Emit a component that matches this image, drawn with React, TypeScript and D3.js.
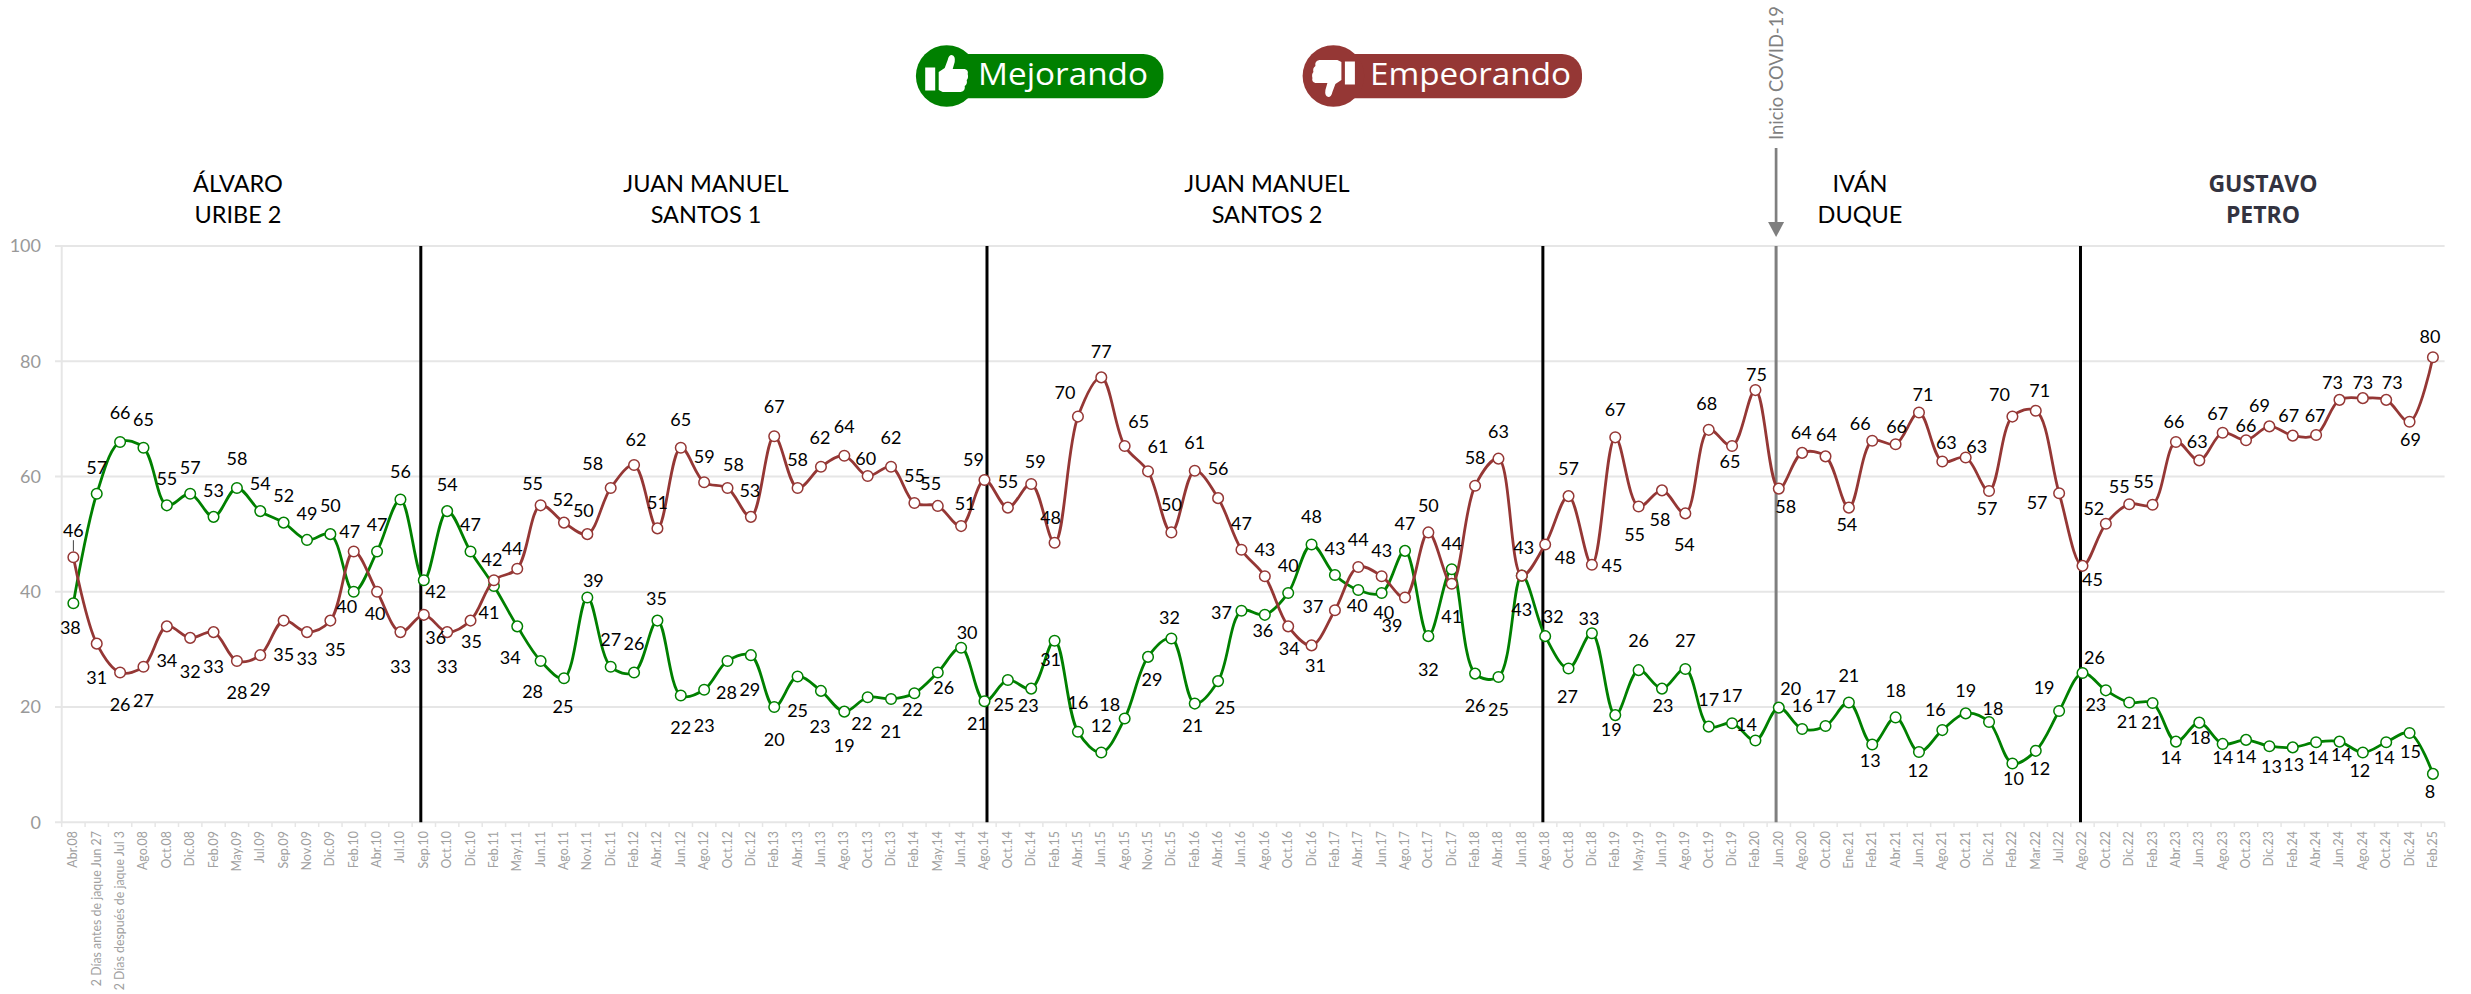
import React from 'react';
import * as d3 from 'd3';

const WIDTH = 2471;
const HEIGHT = 994;
const FONT = 'Lato, "Open Sans", sans-serif';
const GREEN = '#008000';
const RED = '#953735';

const months = [
  'Abr.08', '2 Días antes de jaque Jun 27', '2 Días después de jaque Jul 3', 'Ago.08', 'Oct.08', 'Dic.08',
  'Feb.09', 'May.09', 'Jul.09', 'Sep.09', 'Nov.09', 'Dic.09', 'Feb.10', 'Abr.10', 'Jul.10', 'Sep.10',
  'Oct.10', 'Dic.10', 'Feb.11', 'May.11', 'Jun.11', 'Ago.11', 'Nov.11', 'Dic.11', 'Feb.12', 'Abr.12',
  'Jun.12', 'Ago.12', 'Oct.12', 'Dic.12', 'Feb.13', 'Abr.13', 'Jun.13', 'Ago.13', 'Oct.13', 'Dic.13',
  'Feb.14', 'May.14', 'Jun.14', 'Ago.14', 'Oct.14', 'Dic.14', 'Feb.15', 'Abr.15', 'Jun.15', 'Ago.15',
  'Nov.15', 'Dic.15', 'Feb.16', 'Abr.16', 'Jun.16', 'Ago.16', 'Oct.16', 'Dic.16', 'Feb.17', 'Abr.17',
  'Jun.17', 'Ago.17', 'Oct.17', 'Dic.17', 'Feb.18', 'Abr.18', 'Jun.18', 'Ago.18', 'Oct.18', 'Dic.18',
  'Feb.19', 'May.19', 'Jun.19', 'Ago.19', 'Oct.19', 'Dic.19', 'Feb.20', 'Jun.20', 'Ago.20', 'Oct.20',
  'Ene.21', 'Feb.21', 'Abr.21', 'Jun.21', 'Ago.21', 'Oct.21', 'Dic.21', 'Feb.22', 'Mar.22', 'Jul.22',
  'Ago.22', 'Oct.22', 'Dic.22', 'Feb.23', 'Abr.23', 'Jun.23', 'Ago.23', 'Oct.23', 'Dic.23', 'Feb.24',
  'Abr.24', 'Jun.24', 'Ago.24', 'Oct.24', 'Dic.24', 'Feb.25',
];

const mejorando = [
  38, 57, 66, 65, 55, 57, 53, 58, 54, 52, 49, 50, 40, 47, 56, 42,
  54, 47, 41, 34, 28, 25, 39, 27, 26, 35, 22, 23, 28, 29, 20, 25.3, 22.8, 19.2, 21.7, 21.4,
  22.4, 26, 30.3, 21, 24.7, 23.2, 31.5, 15.7, 12.1, 18, 28.7, 31.9, 20.6, 24.5, 36.7, 36,
  39.8, 48.2, 42.9, 40.3, 39.8, 47.1, 32.3, 43.9, 25.8, 25.2, 42.8, 32.3, 26.7, 32.8,
  18.6, 26.4, 23.2, 26.6, 16.6, 17.2, 14.2, 19.9, 16.2, 16.7, 20.8, 13.5, 18.2, 12.2, 16, 18.9,
  17.4, 10.2, 12.4, 19.3, 25.9, 22.9, 20.8, 20.7, 14, 17.3, 13.6, 14.3, 13.2, 13, 13.9, 14, 12.1,
  13.9, 15.5, 8.4,
];

const empeorando = [
  46, 31, 26, 27, 34, 32, 33, 28, 29, 35, 33, 35, 47, 40, 33, 36,
  33, 35, 42, 44, 55, 52, 50, 58, 62, 51, 65, 59, 58, 53, 67, 58, 61.7, 63.6, 60.1, 61.7,
  55.4, 54.9, 51.4, 59.4, 54.6, 58.7, 48.5, 70.4, 77.2, 65.3, 60.9, 50.3, 61, 56.25, 47.3, 42.7,
  34, 30.7, 36.8, 44.3, 42.7, 39, 50.3, 41.4, 58.4, 63.1, 42.8, 48.2, 56.6, 44.7,
  66.8, 54.8, 57.6, 53.6, 68.1, 65.3, 75, 57.9, 64.1, 63.5, 54.6, 66.2, 65.6, 71.1, 62.6, 63.3,
  57.5, 70.4, 71.4, 57.1, 44.5, 51.8, 55.2, 55.1, 66, 62.8, 67.6, 66.3, 68.7, 67.1, 67.2, 73.3, 73.6,
  73.3, 69.5, 80.7,
];

// printed labels, they do not always round the same way as the plotted point
const mejorandoLabels = [
  38, 57, 66, 65, 55, 57, 53, 58, 54, 52, 49, 50, 40, 47, 56, 42,
  54, 47, 41, 34, 28, 25, 39, 27, 26, 35, 22, 23, 28, 29, 20, 25, 23, 19, 22, 21,
  22, 26, 30, 21, 25, 23, 31, 16, 12, 18, 29, 32, 21, 25, 37, 36,
  40, 48, 43, 40, 40, 47, 32, 44, 26, 25, 43, 32, 27, 33,
  19, 26, 23, 27, 17, 17, 14, 20, 16, 17, 21, 13, 18, 12, 16, 19,
  18, 10, 12, 19, 26, 23, 21, 21, 14, 18, 14, 14, 13, 13, 14, 14, 12,
  14, 15, 8,
];

const empeorandoLabels = [
  46, 31, 26, 27, 34, 32, 33, 28, 29, 35, 33, 35, 47, 40, 33, 36,
  33, 35, 42, 44, 55, 52, 50, 58, 62, 51, 65, 59, 58, 53, 67, 58, 62, 64, 60, 62,
  55, 55, 51, 59, 55, 59, 48, 70, 77, 65, 61, 50, 61, 56, 47, 43,
  34, 31, 37, 44, 43, 39, 50, 41, 58, 63, 43, 48, 57, 45,
  67, 55, 58, 54, 68, 65, 75, 58, 64, 64, 54, 66, 66, 71, 63, 63,
  57, 70, 71, 57, 45, 52, 55, 55, 66, 63, 67, 66, 69, 67, 67, 73, 73,
  73, 69, 80,
];

// hand placed label nudges from the point, [dx, dy] in px
const mejorandoNudge = [
  [-3, 24], [0, -26], [0, -29], [0, -28], [0, -27], [0, -26], [0, -26], [0, -29], [0, -27], [0, -27], [0, -26], [0, -28], [-7, 15], [0, -27], [0, -28], [12, 11],
  [0, -26], [0, -27], [-5, 27], [-7, 31], [-8, 31], [-1, 28], [6, -17], [0, -27], [0, -29], [-1, -22], [0, 32], [0, 36], [-1, 32], [-1, 35], [0, 33], [0, 34], [-1, 36], [0, 34], [-6, 26], [0, 33],
  [-2, 16], [6, 15], [6, -15], [-7, 22], [-4, 25], [-3, 17], [-4, 19], [0, -29], [0, -27], [-15, -14], [4, 23], [-2, -21], [-2, 22], [7, 27], [-20, 2], [-2, 16],
  [0, -27], [0, -28], [0, -26], [-1, 16], [2, 20], [0, -27], [0, 34], [0, -26], [0, 32], [0, 33], [0, 34], [8, -19], [-1, 28], [-3, -15],
  [-4, 15], [0, -29], [1, 17], [0, -28], [0, -27], [0, -27], [-9, -16], [12, -19], [0, -23], [0, -29], [0, -27], [-2, 16], [0, -27], [-1, 19], [-7, -20], [0, -23],
  [4, -13], [1, 15], [4, 18], [-15, -23], [12, -15], [-10, 14], [-2, 19], [-1, 20], [-5, 16], [1, 15], [0, 14], [0, 17], [2, 20], [1, 17], [2, 16], [2, 13], [-3, 18],
  [-2, 16], [1, 19], [-3, 18],
];

const empeorandoNudge = [
  [0, -27], [0, 34], [0, 32], [0, 34], [0, 34], [0, 34], [0, 35], [0, 32], [0, 35], [0, 34], [0, 27], [5, 29], [-4, -20], [-2, 22], [0, 35], [12, 23],
  [0, 35], [1, 21], [-2, -21], [-5, -20], [-8, -22], [-1, -23], [-4, -23], [-18, -24], [2, -25], [0, -26], [0, -28], [0, -26], [6, -23], [-1, -26], [0, -29], [0, -28], [-1, -29], [0, -29], [-2, -17], [0, -29],
  [0, -27], [-7, -22], [4, -22], [-11, -20], [0, -26], [4, -22], [-4, -25], [-13, -24], [0, -26], [14, -24], [10, -25], [0, -28], [0, -28], [0, -29], [0, -26], [0, -27],
  [1, 22], [4, 20], [-22, -4], [0, -27], [0, -26], [-13, 28], [0, -27], [0, 33], [0, -28], [0, -27], [2, -28], [20, 13], [0, -27], [20, 1],
  [0, -28], [-4, 28], [-2, 29], [-1, 31], [-2, -26], [-2, 16], [1, -15], [7, 18], [-1, -20], [1, -22], [-2, 17], [-12, -17], [1, -18], [4, -18], [4, -19], [11, -11],
  [-2, 18], [-13, -22], [4, -20], [-22, 9], [10, 14], [-12, -15], [-10, -17], [-9, -23], [-2, -20], [-2, -19], [-5, -19], [0, -15], [-10, -21], [-4, -20], [-1, -19], [-7, -17], [0, -15],
  [6, -17], [1, 18], [-3, -21],
];

const yTicks = [0, 20, 40, 60, 80, 100];

const presidents = [
  { lines: ['ÁLVARO', 'URIBE 2'], center: 238 },
  { lines: ['JUAN MANUEL', 'SANTOS 1'], center: 706 },
  { lines: ['JUAN MANUEL', 'SANTOS 2'], center: 1267 },
  { lines: ['IVÁN', 'DUQUE'], center: 1860 },
  { lines: ['GUSTAVO', 'PETRO'], center: 2263, bold: true },
];

// term changes, nudged off the point centre like in the original
const termChanges = [
  { month: 'Sep.10', shift: -3 },
  { month: 'Ago.14', shift: 2.5 },
  { month: 'Ago.18', shift: -2.3 },
  { month: 'Ago.22', shift: -2 },
];
const covidMonth = 'Jun.20';

const THUMB =
  'M-8,-4 L-2,-8 L1,-16 Q2,-21 5,-21 Q9,-20 8,-14 L6,-7 L18,-7 Q22,-6 21,-2 Q22,2 20,4 Q21,8 18,10 Q19,15 14,16 L-4,16 L-8,14 Z M-21.5,-8.5 L-11.5,-8.5 L-11.5,14.5 L-21.5,14.5 Z';

const x = d3.scaleBand<string>().domain(months).range([61.7, 2444.6]);
const y = d3.scaleLinear().domain([0, 100]).range([822.3, 246]);
const cx = (m: string) => (x(m) as number) + x.bandwidth() / 2;

const line = d3
  .line<number>()
  .x((_, i) => cx(months[i]))
  .y((d) => y(d))
  .curve(d3.curveCatmullRom.alpha(0.5));

const Series = ({ values, color }: { values: number[]; color: string }) => (
  <g>
    <path d={line(values) as string} fill="none" stroke={color} strokeWidth={2.8} />
    {values.map((v, i) => (
      <circle key={i} cx={cx(months[i])} cy={y(v)} r={5.3} fill="#fff" stroke={color} strokeWidth={1.5} />
    ))}
  </g>
);

const Labels = ({ values, labels, nudge }: { values: number[]; labels: number[]; nudge: number[][] }) => (
  <g fontFamily={FONT} fontSize={18} fill="#000" textAnchor="middle">
    {labels.map((l, i) => (
      <text key={i} x={cx(months[i]) + nudge[i][0]} y={y(values[i]) + nudge[i][1]} dy="0.35em">
        {l}
      </text>
    ))}
  </g>
);

const Legend = ({ cxPos, end, color, text, down, textX, textW }: any) => (
  <g>
    <rect x={cxPos} y={54} width={end - cxPos} height={44.3} rx={20} fill={color} />
    <circle cx={cxPos} cy={76} r={30.8} fill={color} />
    <path d={THUMB} fill="#fff" transform={`translate(${cxPos},76)${down ? ' rotate(180)' : ''}`} />
    <text x={textX} y={85} fontFamily='"Open Sans", sans-serif' fontSize={31} fill="#fff" textLength={textW} lengthAdjust="spacingAndGlyphs">
      {text}
    </text>
  </g>
);

export default function App() {
  const covidX = cx(covidMonth) - 2.7;
  return (
    <svg width={WIDTH} height={HEIGHT} style={{ position: 'absolute', left: 0, top: 0, background: '#fff' }}>
      {/* grid */}
      {yTicks.map((t) => (
        <g key={t}>
          <line x1={55} x2={2444.6} y1={y(t)} y2={y(t)} stroke="#e6e6e6" strokeWidth={2} />
          <text x={41} y={y(t)} dy="0.35em" textAnchor="end" fontFamily={FONT} fontSize={18} fill="#999">
            {t}
          </text>
        </g>
      ))}
      <line x1={61.7} x2={61.7} y1={246} y2={822.3} stroke="#e6e6e6" strokeWidth={2} />

      {/* x axis */}
      {months.map((m) => (
        <g key={m}>
          <line x1={x(m)} x2={x(m)} y1={822.3} y2={827} stroke="#e6e6e6" strokeWidth={1.5} />
          <text
            transform={`translate(${cx(m) + 4},831) rotate(-90)`}
            textAnchor="end"
            fontFamily={FONT}
            fontSize={12.4}
            fill="#a0a0a0"
          >
            {m}
          </text>
        </g>
      ))}
      <line x1={2444.6} x2={2444.6} y1={822.3} y2={827} stroke="#e6e6e6" strokeWidth={1.5} />

      {/* term lines and covid marker */}
      {termChanges.map((t) => (
        <line key={t.month} x1={cx(t.month) + t.shift} x2={cx(t.month) + t.shift} y1={246} y2={822.3} stroke="#000" strokeWidth={3} />
      ))}
      <line x1={covidX} x2={covidX} y1={246} y2={822.3} stroke="#7f7f7f" strokeWidth={3} />
      <line x1={covidX} x2={covidX} y1={148} y2={224} stroke="#7f7f7f" strokeWidth={2.7} />
      <path d={`M${covidX - 8},222 L${covidX + 8},222 L${covidX},237 Z`} fill="#7f7f7f" />
      <text
        transform={`translate(${covidX + 7.3},140) rotate(-90)`}
        fontFamily={FONT}
        fontSize={18.5}
        fill="#7f7f7f"
        textLength={134}
        lengthAdjust="spacingAndGlyphs"
      >
        Inicio COVID-19
      </text>

      {/* president titles */}
      {presidents.map((p) => (
        <g
          key={p.lines.join()}
          fontFamily={p.bold ? '"Open Sans", sans-serif' : FONT}
          fontSize={p.bold ? 23 : 23.5}
          textAnchor="middle"
          fontWeight={p.bold ? 700 : 400}
          fill={p.bold ? '#333340' : '#000'}
        >
          <text x={p.center} y={191.5}>{p.lines[0]}</text>
          <text x={p.center} y={223}>{p.lines[1]}</text>
        </g>
      ))}

      <Legend cxPos={946.7} end={1163.4} color={GREEN} text="Mejorando" textX={978} textW={170} />
      <Legend cxPos={1333.4} end={1582} color={RED} text="Empeorando" textX={1370} textW={201} down />

      <Series values={mejorando} color={GREEN} />
      <Series values={empeorando} color={RED} />

      <line x1={cx(months[0])} x2={cx(months[0])} y1={y(46) - 17} y2={y(46) - 6} stroke="#000" strokeWidth={0.75} />

      <Labels values={mejorando} labels={mejorandoLabels} nudge={mejorandoNudge} />
      <Labels values={empeorando} labels={empeorandoLabels} nudge={empeorandoNudge} />
    </svg>
  );
}
